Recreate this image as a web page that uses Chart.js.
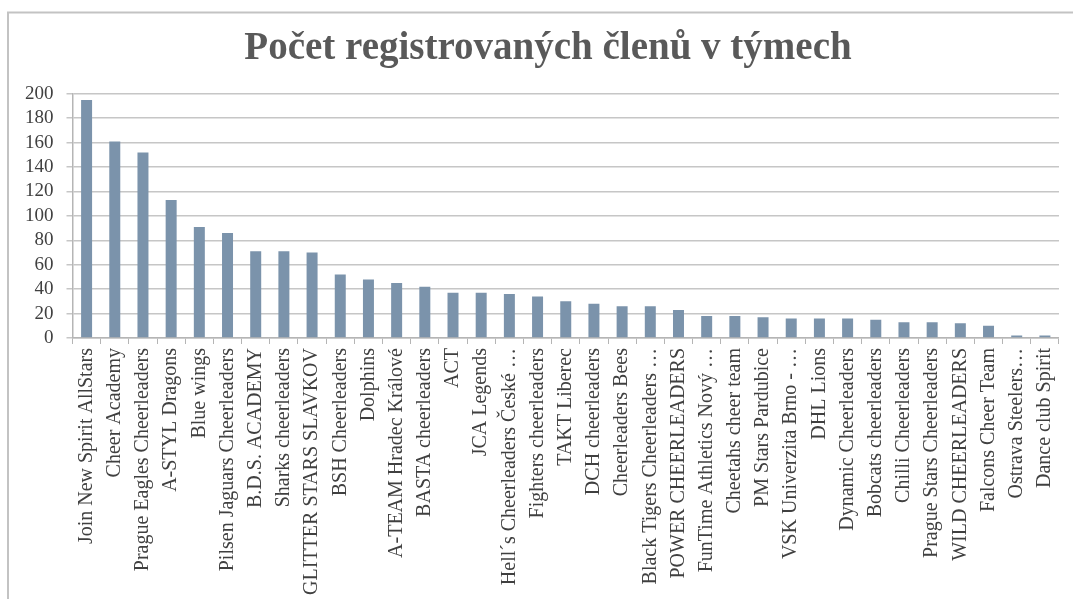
<!DOCTYPE html>
<html>
<head>
<meta charset="utf-8">
<script src="https://cdn.jsdelivr.net/npm/chart.js@4/dist/chart.umd.min.js"></script>
<style>
html,body{margin:0;padding:0;background:#fff;}
#wrap{position:relative;width:1073px;height:599px;}
</style>
</head>
<body>
<div id="wrap"><canvas id="c" width="1073" height="599"></canvas></div>
<script>
const chartTitle = "Počet registrovaných členů v týmech";
const teams = [
  "Join New Spirit AllStars",
  "Cheer Academy",
  "Prague Eagles Cheerleaders",
  "A-STYL Dragons",
  "Blue wings",
  "Pilsen Jaguars Cheerleaders",
  "B.D.S. ACADEMY",
  "Sharks cheerleaders",
  "GLITTER STARS SLAVKOV",
  "BSH Cheerleaders",
  "Dolphins",
  "A-TEAM Hradec Králové",
  "BASTA cheerleaders",
  "ACT",
  "JCA Legends",
  "Hell´s Cheerleaders České …",
  "Fighters cheerleaders",
  "TAKT Liberec",
  "DCH cheerleaders",
  "Cheerleaders Bees",
  "Black Tigers Cheerleaders …",
  "POWER CHEERLEADERS",
  "FunTime Athletics Nový …",
  "Cheetahs cheer team",
  "PM Stars Pardubice",
  "VSK Univerzita Brno - …",
  "DHL Lions",
  "Dynamic Cheerleaders",
  "Bobcats cheerleaders",
  "Chilli Cheerleaders",
  "Prague Stars Cheerleaders",
  "WILD CHEERLEADERS",
  "Falcons Cheer Team",
  "Ostrava Steelers…",
  "Dance club Spirit"
];
const members = [195,161,152,113,91,86,71,71,70,52,48,45,42,37,37,36,34,30,28,26,26,23,18,18,17,16,16,16,15,13,13,12,10,2,2];
const yMin = 0, yMax = 200, yStep = 20;

const framePlugin = {
  id: 'frame',
  afterLayout(chart){
    if (chart.titleBlock) { chart.titleBlock.left += 30; }
  },
  beforeDraw(chart){
    const ctx = chart.ctx;
    ctx.save();
    ctx.fillStyle = '#ffffff';
    ctx.fillRect(0,0,chart.width,chart.height);
    ctx.strokeStyle = '#c3c3c3';
    ctx.lineWidth = 2;
    ctx.beginPath();
    ctx.moveTo(8, chart.height);
    ctx.lineTo(8, 12.5);
    ctx.lineTo(chart.width, 12.5);
    ctx.stroke();
    ctx.restore();
  }
};

new Chart(document.getElementById('c'), {
  type: 'bar',
  data: {
    labels: teams,
    datasets: [{
      data: members,
      backgroundColor: '#7b93ab',
      borderWidth: 0,
      categoryPercentage: 1,
      barPercentage: 0.39
    }]
  },
  options: {
    responsive: false,
    animation: false,
    layout: { padding: { left: 0, right: 7, top: 0, bottom: 0 } },
    plugins: {
      legend: { display: false },
      tooltip: { enabled: false },
      title: {
        display: true,
        text: chartTitle,
        color: '#595959',
        font: { family: 'Liberation Serif', size: 39, weight: 'bold', lineHeight: 1.2 },
        padding: { top: 26, bottom: 21 }
      }
    },
    scales: {
      x: {
        offset: true,
        grid: { offset: true, drawOnChartArea: false, drawTicks: true, tickLength: 6, color: '#b5b5b5', lineWidth: 1 },
        border: { display: true, color: '#b5b5b5', width: 1.5 },
        ticks: {
          autoSkip: false, minRotation: 90, maxRotation: 90, padding: 4,
          color: '#404040',
          font: { family: 'Liberation Serif', size: 20 }
        },
        afterFit(scale){ scale.height = 261; }
      },
      y: {
        min: yMin, max: yMax,
        grid: { color: '#c6c6c6', lineWidth: 1.5, tickLength: 6, drawTicks: true },
        border: { display: true, color: '#b5b5b5', width: 1.5 },
        ticks: {
          autoSkip: false, stepSize: yStep, padding: 13,
          color: '#404040',
          font: { family: 'Liberation Serif', size: 19 }
        },
        afterFit(scale){ scale.width = 72.5; }
      }
    }
  },
  plugins: [framePlugin]
});
</script>
</body>
</html>
